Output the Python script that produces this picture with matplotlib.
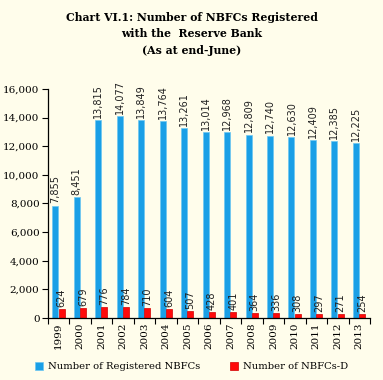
import matplotlib
matplotlib.use("Agg")
import matplotlib.pyplot as plt
import numpy as np

years = ["1999", "2000", "2001", "2002", "2003", "2004", "2005", "2006",
         "2007", "2008", "2009", "2010", "2011", "2012", "2013"]
registered = [7855, 8451, 13815, 14077, 13849, 13764, 13261, 13014,
              12968, 12809, 12740, 12630, 12409, 12385, 12225]
deposit = [624, 679, 776, 784, 710, 604, 507, 428,
           401, 364, 336, 308, 297, 271, 254]
yticks = [0, 2000, 4000, 6000, 8000, 10000, 12000, 14000, 16000]

bg = "#FFFDEB"
blue = "#1A9FE6"
red = "#FF0A0A"
serif = "DejaVu Serif"

fig = plt.figure(figsize=(3.83, 3.80), dpi=100, facecolor=bg)
ax = fig.add_axes([0.125, 0.163, 0.841, 0.603], facecolor=bg)

x = np.arange(len(years))
w = 0.28
b1 = ax.bar(x - 0.155, registered, w, color=blue, edgecolor="#6CC6F2", linewidth=0.5,
            label="Number of Registered NBFCs")
b2 = ax.bar(x + 0.135, deposit, w, color=red, edgecolor="#D00000", linewidth=0.5,
            label="Number of NBFCs-D")

for xi, v in zip(x, registered):
    ax.text(xi - 0.155, v + 150, f"{v:,}", rotation=90, ha="center", va="bottom",
            fontsize=7, family="DejaVu Sans", color="#222222")
for xi, v in zip(x, deposit):
    ax.text(xi + 0.135, v + 150, f"{v:,}", rotation=90, ha="center", va="bottom",
            fontsize=7, family="DejaVu Sans", color="#222222")

ax.set_xlim(-0.5, len(years) - 0.5)
ax.set_ylim(0, 16000)
ax.set_yticks(yticks)
ax.set_yticklabels([f"{t:,}" for t in yticks], family=serif, fontsize=7.5)
ax.set_xticks(x)
ax.set_xticklabels(years, rotation=90, family=serif, fontsize=7.5)
ax.tick_params(axis="x", which="major", length=0, pad=3)
ax.set_xticks(np.arange(-0.5, len(years), 1.0), minor=True)
ax.tick_params(axis="x", which="minor", length=4, width=0.8, direction="out")
ax.tick_params(axis="y", length=4, width=0.8, pad=2)
for s in ["top", "right"]:
    ax.spines[s].set_visible(False)
for s in ["left", "bottom"]:
    ax.spines[s].set_linewidth(0.9)

fig.text(0.5, 0.955, "Chart VI.1: Number of NBFCs Registered", ha="center", va="center",
         family=serif, fontweight="bold", fontsize=7.8)
fig.text(0.5, 0.912, "with the  Reserve Bank", ha="center", va="center",
         family=serif, fontweight="bold", fontsize=7.8)
fig.text(0.5, 0.868, "(As at end-June)", ha="center", va="center",
         family=serif, fontweight="bold", fontsize=7.8)

leg = fig.legend(handles=[b1, b2], loc="center", bbox_to_anchor=(0.5, 0.035), ncol=2,
                 frameon=False, prop={"family": serif, "size": 7.2},
                 handlelength=0.8, handleheight=0.8, columnspacing=3.0, handletextpad=0.5)

fig.savefig("out.png", dpi=100, facecolor=bg)
